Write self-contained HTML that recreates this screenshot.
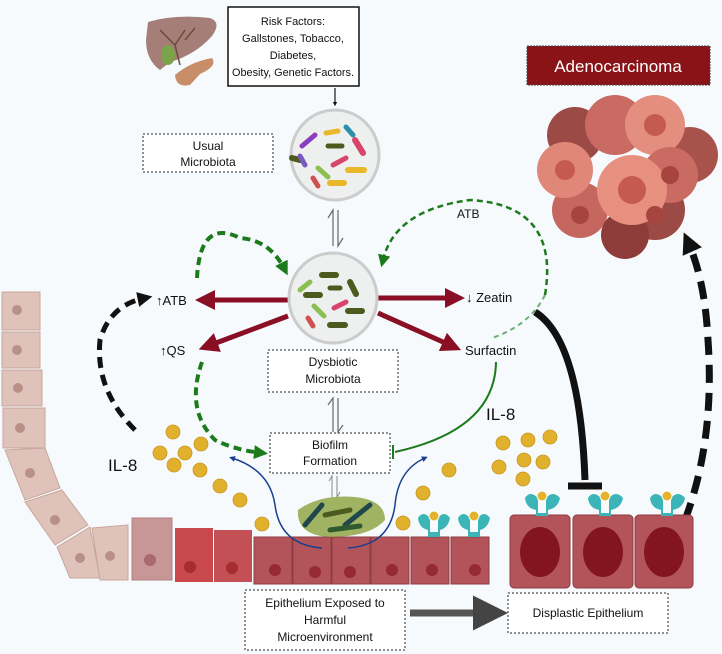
<!DOCTYPE html>
<html><head><meta charset="utf-8"><style>
html,body{margin:0;padding:0;background:#f6fafd}
svg{display:block}
text{font-family:"Liberation Sans",sans-serif;fill:#111}
</style></head><body>
<svg width="722" height="654" viewBox="0 0 722 654" xmlns="http://www.w3.org/2000/svg">
<defs>
<marker id="rh" markerWidth="4" markerHeight="4" refX="2" refY="2" orient="auto"><path d="M0,0 L4,2 L0,4 Z" fill="#8a0f24"/></marker>
<marker id="gh" markerWidth="3.5" markerHeight="3.5" refX="2" refY="1.75" orient="auto"><path d="M0,0 L3.5,1.75 L0,3.5 Z" fill="#1c7a1c"/></marker>
<marker id="gh2" markerWidth="5" markerHeight="5" refX="2" refY="2.5" orient="auto"><path d="M0,0 L5,2.5 L0,5 Z" fill="#1c7a1c"/></marker>
<marker id="kh" markerWidth="3" markerHeight="3" refX="1.5" refY="1.5" orient="auto"><path d="M0,0 L3,1.5 L0,3 Z" fill="#111"/></marker>
<marker id="bh" markerWidth="4" markerHeight="4" refX="2" refY="2" orient="auto"><path d="M0,0 L4,2 L0,4 Z" fill="#1a3f8f"/></marker>
<marker id="sh" markerWidth="5" markerHeight="5" refX="1" refY="2.5" orient="auto"><path d="M0,0 L5,2.5 L0,5 Z" fill="#444"/></marker>
</defs>
<rect width="722" height="654" fill="#f6fafd"/>

<!-- liver -->
<path d="M148,22 Q175,14 210,18 Q222,22 212,36 Q195,55 170,62 L160,70 Q146,60 146,40 Z" fill="#a67e78"/>
<path d="M175,75 Q190,62 212,58 Q218,66 200,74 L190,85 Q176,88 175,75 Z" fill="#c88e6a"/>
<ellipse cx="168" cy="55" rx="7" ry="10" fill="#7aa34a"/>
<path d="M160,30 L175,45 L185,30 M175,45 L180,65 M195,28 L185,40" stroke="#6b4a3a" stroke-width="1.5" fill="none"/>

<!-- risk box -->
<rect x="228" y="7" width="131" height="79" fill="#fff" stroke="#111" stroke-width="1.5"/>
<text font-size="11" text-anchor="middle"><tspan x="293" y="25">Risk Factors:</tspan><tspan x="293" y="42">Gallstones, Tobacco,</tspan><tspan x="293" y="59">Diabetes,</tspan><tspan x="293" y="76" textLength="122" lengthAdjust="spacingAndGlyphs">Obesity, Genetic Factors.</tspan></text>
<line x1="335" y1="88" x2="335" y2="104" stroke="#444" stroke-width="1.5" marker-end="url(#kh)"/>

<!-- usual microbiota -->
<rect x="143" y="134" width="130" height="38" fill="#fff" stroke="#222" stroke-dasharray="2,2"/>
<text font-size="12" text-anchor="middle"><tspan x="208" y="150">Usual</tspan><tspan x="208" y="166">Microbiota</tspan></text>
<ellipse cx="335" cy="155" rx="44" ry="45" fill="#eef0f0" stroke="#ccc" stroke-width="3"/>
<g stroke-linecap="round" stroke-width="5" fill="none">
<line x1="302" y1="146" x2="315" y2="135" stroke="#8a3fc0"/><line x1="326" y1="133" x2="338" y2="131" stroke="#e8b82a"/>
<line x1="346" y1="127" x2="353" y2="135" stroke="#2a8fa8"/><line x1="328" y1="146" x2="342" y2="146" stroke="#4d5a1e"/>
<line x1="355" y1="140" x2="363" y2="153" stroke="#d8456a" stroke-width="6"/><line x1="292" y1="158" x2="300" y2="160" stroke="#4d5a1e" stroke-width="6"/>
<line x1="300" y1="156" x2="305" y2="165" stroke="#7a5ac0"/><line x1="318" y1="168" x2="328" y2="177" stroke="#8ac050"/>
<line x1="333" y1="165" x2="346" y2="158" stroke="#d8456a"/><line x1="348" y1="170" x2="364" y2="170" stroke="#e8b82a" stroke-width="6"/>
<line x1="313" y1="178" x2="318" y2="186" stroke="#d05050"/><line x1="330" y1="183" x2="344" y2="183" stroke="#e8b82a" stroke-width="6"/>
</g>

<!-- equilibrium -->
<path d="M333,246 L333,210 L328,218" stroke="#666" fill="none" stroke-width="1.2"/>
<path d="M338,210 L338,246 L343,238" stroke="#666" fill="none" stroke-width="1.2"/>

<!-- red arrows -->
<g stroke="#8a0f24" stroke-width="5" fill="none">
<line x1="290" y1="300" x2="205" y2="300" marker-end="url(#rh)"/>
<line x1="378" y1="298" x2="455" y2="298" marker-end="url(#rh)"/>
<line x1="288" y1="316" x2="208" y2="346" marker-end="url(#rh)"/>
<line x1="378" y1="313" x2="452" y2="346" marker-end="url(#rh)"/>
</g>

<!-- dysbiotic -->
<ellipse cx="333" cy="298" rx="44" ry="45" fill="#eef0f0" stroke="#ccc" stroke-width="3"/>
<g stroke-linecap="round" stroke-width="5" fill="none">
<line x1="300" y1="290" x2="310" y2="282" stroke="#8ac050"/><line x1="322" y1="275" x2="336" y2="275" stroke="#4d5a1e" stroke-width="6"/>
<line x1="350" y1="282" x2="356" y2="294" stroke="#4d5a1e" stroke-width="6"/><line x1="306" y1="295" x2="320" y2="295" stroke="#4d5a1e" stroke-width="6"/>
<line x1="330" y1="288" x2="340" y2="288" stroke="#4d5a1e"/><line x1="334" y1="308" x2="346" y2="302" stroke="#d8456a"/>
<line x1="348" y1="311" x2="362" y2="311" stroke="#4d5a1e" stroke-width="6"/><line x1="314" y1="306" x2="324" y2="316" stroke="#8ac050"/>
<line x1="308" y1="318" x2="313" y2="326" stroke="#d05050"/><line x1="330" y1="325" x2="345" y2="325" stroke="#4d5a1e" stroke-width="6"/>
</g>
<rect x="268" y="350" width="130" height="42" fill="#fff" stroke="#222" stroke-dasharray="2,2"/>
<text font-size="12" text-anchor="middle"><tspan x="333" y="366">Dysbiotic</tspan><tspan x="333" y="383">Microbiota</tspan></text>

<text font-size="13"><tspan x="156" y="305">↑ATB</tspan></text>
<text font-size="13" x="160" y="355">↑QS</text>
<text font-size="13" x="466" y="302">↓ Zeatin</text>
<text font-size="13" x="465" y="355">Surfactin</text>

<!-- green dashed -->
<path d="M197,278 Q200,218 240,238 Q270,240 285,270" stroke="#1c7a1c" stroke-width="4" stroke-dasharray="8,5" fill="none" marker-end="url(#gh)"/>
<path d="M545,295 Q560,205 470,200 Q395,210 383,260" stroke="#1c7a1c" stroke-width="2.5" stroke-dasharray="6,4" fill="none" marker-end="url(#gh2)"/>
<text font-size="12" x="457" y="218">ATB</text>
<path d="M545,295 Q530,325 492,338" stroke="#1c7a1c" stroke-width="2" stroke-dasharray="5,4" fill="none" opacity=".6"/>
<path d="M202,362 Q185,410 215,440 Q235,450 262,453" stroke="#1c7a1c" stroke-width="4" stroke-dasharray="8,5" fill="none" marker-end="url(#gh)"/>
<!-- surfactin inhibit -->
<path d="M496,362 Q495,430 395,452" stroke="#1c7a1c" stroke-width="2" fill="none"/>
<line x1="393" y1="445" x2="393" y2="459" stroke="#1c7a1c" stroke-width="2"/>

<!-- biofilm -->
<rect x="270" y="433" width="120" height="40" fill="#fff" stroke="#222" stroke-dasharray="2,2"/>
<text font-size="12" text-anchor="middle"><tspan x="330" y="449">Biofilm</tspan><tspan x="330" y="465">Formation</tspan></text>
<path d="M333,432 L333,398 L328,405" stroke="#666" fill="none" stroke-width="1.2"/>
<path d="M338,398 L338,432 L343,425" stroke="#666" fill="none" stroke-width="1.2"/>
<path d="M332,497 L332,476 L329,481 M337,476 L337,497 L340,492" stroke="#888" fill="none" stroke-width="1"/>

<!-- black dashed left -->
<path d="M135,430 Q95,390 100,340 Q110,305 145,298" stroke="#111" stroke-width="5" stroke-dasharray="11,7" fill="none" marker-end="url(#kh)"/>
<text font-size="17" x="108" y="471">IL-8</text>
<text font-size="17" x="486" y="420">IL-8</text>

<!-- Zeatin inhibition -->
<path d="M535,312 Q580,340 585,480" stroke="#111" stroke-width="7" fill="none"/>
<line x1="568" y1="486" x2="602" y2="486" stroke="#111" stroke-width="7"/>

<!-- adenocarcinoma -->
<rect x="527" y="46" width="183" height="39" fill="#8a1318" stroke="#444" stroke-dasharray="2,1"/>
<text font-size="17" x="618" y="72" text-anchor="middle" style="fill:#fff">Adenocarcinoma</text>
<g>
<circle cx="575" cy="135" r="28" fill="#9c4a46"/><circle cx="615" cy="125" r="30" fill="#c96b62"/>
<circle cx="690" cy="155" r="28" fill="#a8524c"/><circle cx="655" cy="210" r="30" fill="#9c4a46"/>
<circle cx="580" cy="210" r="28" fill="#c5675e"/><circle cx="625" cy="235" r="24" fill="#8e3c3a"/>
<circle cx="565" cy="170" r="28" fill="#e1877a"/><circle cx="655" cy="125" r="30" fill="#e48e80"/>
<circle cx="670" cy="175" r="28" fill="#c96b62"/><circle cx="632" cy="190" r="35" fill="#e8907f"/>
<circle cx="565" cy="170" r="10" fill="#c55a50"/><circle cx="655" cy="125" r="11" fill="#c55a50"/>
<circle cx="632" cy="190" r="14" fill="#c55a50"/><circle cx="670" cy="175" r="9" fill="#a8443f"/>
<circle cx="580" cy="215" r="9" fill="#a8443f"/><circle cx="655" cy="215" r="9" fill="#a8443f"/>
</g>
<!-- right black dashed -->
<path d="M685,520 Q715,440 708,340 Q705,280 688,242" stroke="#111" stroke-width="7" stroke-dasharray="18,10" fill="none" marker-end="url(#kh)"/>

<!-- epithelium curve left -->
<g fill="#dfc3bb" stroke="#c9a59b" stroke-width="1">
<rect x="2" y="292" width="38" height="38"/><rect x="2" y="332" width="38" height="36"/>
<rect x="2" y="370" width="40" height="36"/><rect x="3" y="408" width="42" height="40"/>
<path d="M5,450 L45,448 L60,488 L25,500 Z"/><path d="M25,502 L62,490 L88,525 L55,545 Z"/>
<path d="M57,547 L90,527 L100,578 L70,578 Z"/><path d="M92,528 L128,525 L128,580 L100,580 Z"/>
</g>
<g fill="#b99088">
<circle cx="17" cy="310" r="5"/><circle cx="17" cy="350" r="5"/><circle cx="18" cy="388" r="5"/><circle cx="20" cy="428" r="5"/>
<circle cx="30" cy="473" r="5"/><circle cx="55" cy="520" r="5"/><circle cx="80" cy="558" r="5"/><circle cx="110" cy="556" r="5"/>
</g>
<rect x="132" y="518" width="40" height="62" fill="#c99698" stroke="#b08080"/>
<circle cx="150" cy="560" r="6" fill="#a86a70"/>
<rect x="175" y="528" width="38" height="54" fill="#c8484c"/><circle cx="190" cy="567" r="6" fill="#a52c30"/>
<rect x="214" y="530" width="38" height="52" fill="#c25055"/><circle cx="232" cy="568" r="6" fill="#a52c30"/>
<g fill="#b2545a" stroke="#8f3c42" stroke-width="1">
<rect x="254" y="537" width="38" height="47"/><rect x="293" y="537" width="38" height="47"/>
<rect x="332" y="537" width="38" height="47"/><rect x="371" y="537" width="38" height="47"/>
<rect x="411" y="537" width="38" height="47"/><rect x="451" y="537" width="38" height="47"/>
</g>
<g fill="#952a36"><circle cx="275" cy="570" r="6"/><circle cx="315" cy="572" r="6"/><circle cx="350" cy="572" r="6"/><circle cx="392" cy="570" r="6"/><circle cx="432" cy="570" r="6"/><circle cx="475" cy="570" r="6"/></g>

<!-- displastic cells -->
<g fill="#b2545a" stroke="#8f3c42" stroke-width="1">
<rect x="510" y="515" width="60" height="73" rx="4"/><rect x="573" y="515" width="60" height="73" rx="4"/><rect x="635" y="515" width="58" height="73" rx="4"/>
</g>
<g fill="#831520"><ellipse cx="540" cy="552" rx="20" ry="25"/><ellipse cx="603" cy="552" rx="20" ry="25"/><ellipse cx="664" cy="552" rx="20" ry="25"/></g>
<!-- receptors -->
<g fill="#3bb5b8">
<path d="M525,498 Q530,490 538,498 L538,513 L546,513 L546,498 Q553,490 560,498 Q558,508 548,510 L548,516 L536,516 L536,510 Q526,508 525,498Z"/>
<path d="M588,498 Q593,490 601,498 L601,513 L609,513 L609,498 Q616,490 623,498 Q621,508 611,510 L611,516 L599,516 L599,510 Q589,508 588,498Z"/>
<path d="M650,498 Q655,490 663,498 L663,513 L671,513 L671,498 Q678,490 685,498 Q683,508 673,510 L673,516 L661,516 L661,510 Q651,508 650,498Z"/>
<path d="M418,518 Q423,510 430,518 L430,532 L438,532 L438,518 Q444,510 450,518 Q448,528 440,530 L440,537 L428,537 L428,530 Q419,528 418,518Z"/>
<path d="M458,518 Q463,510 470,518 L470,532 L478,532 L478,518 Q484,510 490,518 Q488,528 480,530 L480,537 L468,537 L468,530 Q459,528 458,518Z"/>
</g>
<g fill="#e5b22e" stroke="#fff" stroke-width="1"><circle cx="542" cy="496" r="5"/><circle cx="605" cy="496" r="5"/><circle cx="667" cy="496" r="5"/><circle cx="434" cy="516" r="5"/><circle cx="474" cy="516" r="5"/></g>

<!-- IL-8 dots -->
<g fill="#e1b12d" stroke="#c9981f" stroke-width=".8">
<circle cx="173" cy="432" r="7"/><circle cx="160" cy="453" r="7"/><circle cx="185" cy="453" r="7"/><circle cx="201" cy="444" r="7"/>
<circle cx="174" cy="465" r="7"/><circle cx="200" cy="470" r="7"/><circle cx="220" cy="486" r="7"/><circle cx="240" cy="500" r="7"/><circle cx="262" cy="524" r="7"/>
<circle cx="503" cy="443" r="7"/><circle cx="528" cy="440" r="7"/><circle cx="550" cy="437" r="7"/><circle cx="499" cy="467" r="7"/>
<circle cx="524" cy="460" r="7"/><circle cx="543" cy="462" r="7"/><circle cx="523" cy="479" r="7"/><circle cx="449" cy="470" r="7"/>
<circle cx="423" cy="493" r="7"/><circle cx="403" cy="523" r="7"/>
</g>

<!-- biofilm mass -->
<path d="M298,510 Q320,494 355,497 Q385,500 385,520 Q370,537 330,537 Q296,535 298,510Z" fill="#8aa13c" opacity=".8"/>
<g stroke-linecap="round" stroke-width="5"><line x1="305" y1="525" x2="322" y2="505" stroke="#20484a"/><line x1="325" y1="515" x2="350" y2="510" stroke="#4d5a1e"/><line x1="345" y1="525" x2="370" y2="505" stroke="#20484a"/><line x1="330" y1="530" x2="360" y2="526" stroke="#2f5a30"/></g>

<!-- blue arrows -->
<path d="M322,548 Q280,545 275,505 Q270,470 232,458" stroke="#1a3f8f" stroke-width="1.5" fill="none" marker-end="url(#bh)"/>
<path d="M348,548 Q390,545 395,505 Q398,470 425,458" stroke="#1a3f8f" stroke-width="1.5" fill="none" marker-end="url(#bh)"/>

<!-- bottom boxes -->
<rect x="245" y="590" width="160" height="60" fill="#fff" stroke="#222" stroke-dasharray="2,2"/>
<text font-size="12" text-anchor="middle"><tspan x="325" y="607">Epithelium  Exposed to</tspan><tspan x="325" y="624">Harmful</tspan><tspan x="325" y="641">Microenvironment</tspan></text>
<line x1="410" y1="613" x2="480" y2="613" stroke="#555" stroke-width="7" marker-end="url(#sh)"/>
<rect x="508" y="593" width="160" height="40" fill="#fff" stroke="#222" stroke-dasharray="2,2"/>
<text font-size="12" x="588" y="617" text-anchor="middle">Displastic Epithelium</text>
</svg>
</body></html>
